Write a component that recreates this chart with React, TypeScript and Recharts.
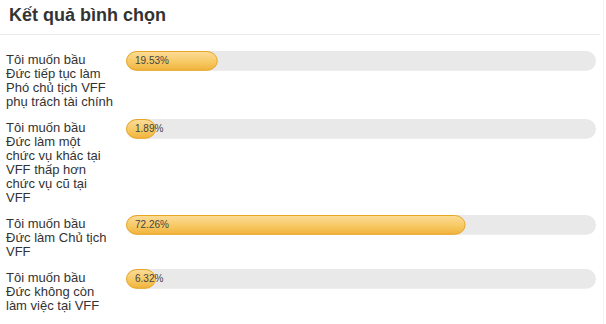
import { BarChart, Bar, XAxis, YAxis, LabelList } from 'recharts'

// Poll options (line breaks as they appear in the list)
const options = [
  'Tôi muốn bầu\nĐức tiếp tục làm\nPhó chủ tịch VFF\nphụ trách tài chính',
  'Tôi muốn bầu\nĐức làm một\nchức vụ khác tại\nVFF thấp hơn\nchức vụ cũ tại\nVFF',
  'Tôi muốn bầu\nĐức làm Chủ tịch\nVFF',
  'Tôi muốn bầu\nĐức không còn\nlàm việc tại VFF',
]
const percents = [19.53, 1.89, 72.26, 6.32]

const title = 'Kết quả bình chọn'
const font = "Arial, 'Liberation Sans', sans-serif"

// Rounded pill with a minimum width so tiny values still show a cap
const PillShape = (props: any) => {
  const { x, y, width, height, index } = props
  const w = Math.max(width, 30)
  const id = `gold-${index}-${Math.round(y)}`
  return (
    <g>
      <defs>
        <linearGradient id={id} x1="0" y1="0" x2="0" y2="1">
          <stop offset="0%" stopColor="#fcdc98" />
          <stop offset="55%" stopColor="#f7c964" />
          <stop offset="100%" stopColor="#f1b33c" />
        </linearGradient>
      </defs>
      <rect
        x={x + 0.5}
        y={y + 0.5}
        width={w - 1}
        height={height - 1}
        rx={10.5}
        ry={10.5}
        fill={`url(#${id})`}
        stroke="#e8a625"
        strokeWidth={1}
      />
    </g>
  )
}

function ResultRow({ label, value }: { label: string; value: number }) {
  const data = [{ name: label, value }]
  return (
    <div style={{ display: 'flex', alignItems: 'flex-start', marginBottom: 9.5 }}>
      <div
        style={{
          width: 120,
          paddingLeft: 6,
          marginTop: 2.5,
          fontSize: 13,
          lineHeight: '14px',
          color: '#333',
          whiteSpace: 'pre-line',
        }}
      >
        {label}
      </div>
      <BarChart
        width={470}
        height={22}
        layout="vertical"
        data={data}
        margin={{ top: 0, right: 0, bottom: 0, left: 0 }}
        barCategoryGap={0}
      >
        <XAxis type="number" domain={[0, 100]} hide />
        <YAxis type="category" dataKey="name" hide />
        <Bar
          dataKey="value"
          barSize={22}
          background={{ fill: '#e9e9e9', radius: 11 }}
          shape={<PillShape />}
          isAnimationActive={false}
        >
          <LabelList
            dataKey="value"
            position="insideLeft"
            offset={9}
            fontSize={10}
            fill="#444"
            fontFamily={font}
            formatter={(v: any) => `${v}%`}
          />
        </Bar>
      </BarChart>
    </div>
  )
}

export default function App() {
  return (
    <div
      style={{
        position: 'absolute',
        left: 0,
        top: 0,
        width: 606,
        height: 324,
        background: '#fff',
        fontFamily: font,
        overflow: 'hidden',
      }}
    >
      <div
        style={{
          position: 'absolute',
          left: 9,
          top: 6,
          fontSize: 18,
          lineHeight: '18px',
          fontWeight: 'bold',
          color: '#333',
        }}
      >
        {title}
      </div>
      <div style={{ position: 'absolute', left: 0, top: 34, width: 600, height: 1, background: '#ebebeb' }} />
      <div style={{ position: 'absolute', left: 603, top: 0, width: 1, height: 324, background: '#f3f3f3' }} />
      <div style={{ position: 'absolute', left: 0, top: 50 }}>
        {options.map((label, i) => (
          <ResultRow key={i} label={label} value={percents[i]} />
        ))}
      </div>
    </div>
  )
}
